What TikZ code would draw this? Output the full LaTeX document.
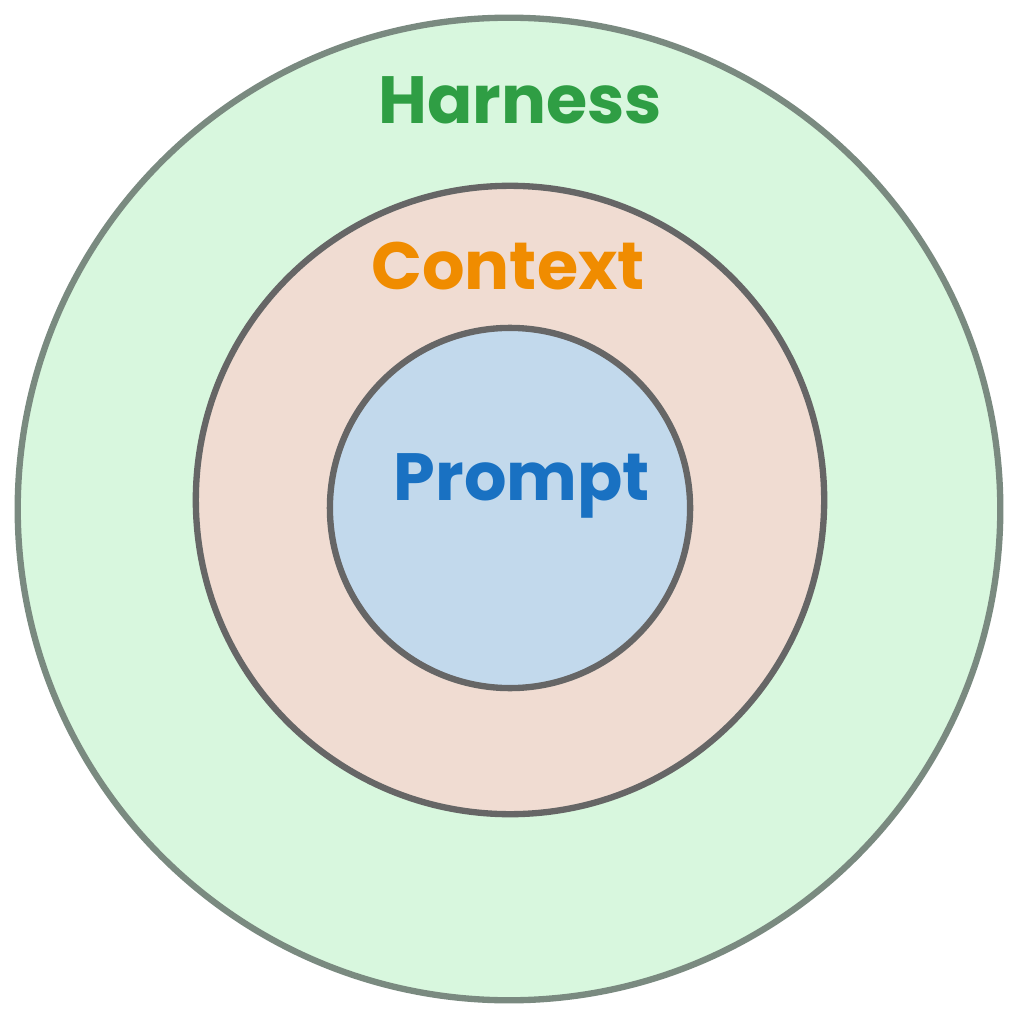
\documentclass[tikz,border=0pt]{standalone}
\usepackage{fontspec}
\setmainfont{Poppins}
\definecolor{gfill}{HTML}{D8F7DE}
\definecolor{ofill}{HTML}{F0DCD2}
\definecolor{bfill}{HTML}{C2D9EC}
\definecolor{gtxt}{HTML}{2F9E44}
\definecolor{otxt}{HTML}{F08C00}
\definecolor{btxt}{HTML}{1971C2}
\definecolor{edge}{HTML}{666666}
\definecolor{gedge}{HTML}{7A8A80}
\begin{document}
\begin{tikzpicture}[x=0.01cm,y=-0.01cm,
  ring/.style={circle,draw=edge,line width=1.8pt,inner sep=0pt},
  lbl/.style={font=\fontsize{19}{22}\selectfont\bfseries}]
\useasboundingbox (0,0) rectangle (1019,1019);
\node[ring,fill=gfill,draw=gedge,minimum size=9.82cm] (harness) at (509,509) {};
\node[ring,fill=ofill,minimum size=6.28cm] (context) at (510,500) {};
\node[ring,fill=bfill,minimum size=3.6cm] (prompt) at (510,508) {};
\node[lbl,text=gtxt] (th) at (520,100) {Harness};
\node[lbl,text=otxt] (tc) at (508,266) {Context};
\node[lbl,text=btxt] (tp) at (522,486) {Prompt};
\end{tikzpicture}
\end{document}
